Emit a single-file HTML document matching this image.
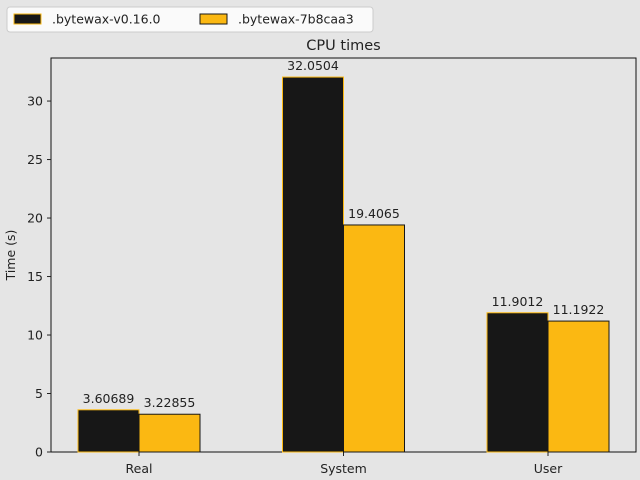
<!DOCTYPE html>
<html><head><meta charset="utf-8"><style>
body{margin:0;background:#e5e5e5;}
svg{display:block;font-family:"DejaVu Sans","Liberation Sans",sans-serif;}
</style></head><body>
<svg id="c" width="640" height="480">
<rect x="0" y="0" width="640" height="480" fill="#e5e5e5"/>
<g id="plot"></g>
<text x="343.5" y="50" text-anchor="middle" font-size="14.5" fill="#222">CPU times</text>
<text transform="translate(15,255) rotate(-90)" text-anchor="middle" font-size="12.5" fill="#222">Time (s)</text>
<g>
<rect x="7" y="7" width="366" height="25" rx="3" fill="#fff" fill-opacity="0.8" stroke="#ccc"/>
<rect x="14" y="14" width="27" height="10" fill="#171717" stroke="#fbb812"/>
<text x="52" y="23.5" font-size="12.5" fill="#222">.bytewax-v0.16.0</text>
<rect x="200" y="14" width="27" height="10" fill="#fbb812" stroke="#171717"/>
<text x="238" y="23.5" font-size="12.5" fill="#222">.bytewax-7b8caa3</text>
</g>
</svg>
<script>
const categories = ["Real","System","User"];
const seriesA = [3.60689, 32.0504, 11.9012];
const seriesB = [3.22855, 19.4065, 11.1922];
const yTicks = [0,5,10,15,20,25,30];
const L=51,R=636,T=58,B=452,yMax=33.68;
const xs=i=>139+(i)*204.5;
const ys=v=>B-(v/yMax)*(B-T);
const bw=61;
const g=document.getElementById('plot');
const NS="http://www.w3.org/2000/svg";
function mk(t,a){const e=document.createElementNS(NS,t);for(const k in a)e.setAttribute(k,a[k]);g.appendChild(e);return e;}
let fr=mk('rect',{x:L,y:T,width:R-L,height:B-T,fill:'none',stroke:'#111','stroke-width':1});


yTicks.forEach(t=>{
  const y=ys(t);
  let l=mk('line',{x1:L-4,x2:L,y1:y,y2:y,stroke:'#222'});
  
  
  let tx=mk('text',{x:L-8,y:y+4.5,'text-anchor':'end','font-size':12.5,fill:'#222'});
  tx.textContent=t;
  
  
});
categories.forEach((c,i)=>{
  const cx=xs(i);
  let l=mk('line',{x1:cx,x2:cx,y1:B,y2:B+4,stroke:'#222'});
  
  
  let tx=mk('text',{x:cx,y:B+21,'text-anchor':'middle','font-size':12.5,fill:'#222'});
  tx.textContent=c;
  
  
  [[seriesA,'#171717','#fbb812',-bw],[seriesB,'#fbb812','#171717',0]].forEach(([s,f,st,off],k)=>{
    const v=s[i],y=ys(v);
    let r=mk('rect',{x:cx+off,y:y,width:bw,height:B-y,fill:f,stroke:st,'stroke-width':1});
    
    
    let lb=mk('text',{x:cx+off+bw/2,y:y-7,'text-anchor':'middle','font-size':12.5,fill:'#222'});
    lb.textContent=v;
    
    
  });
});
</script>
</body></html>
